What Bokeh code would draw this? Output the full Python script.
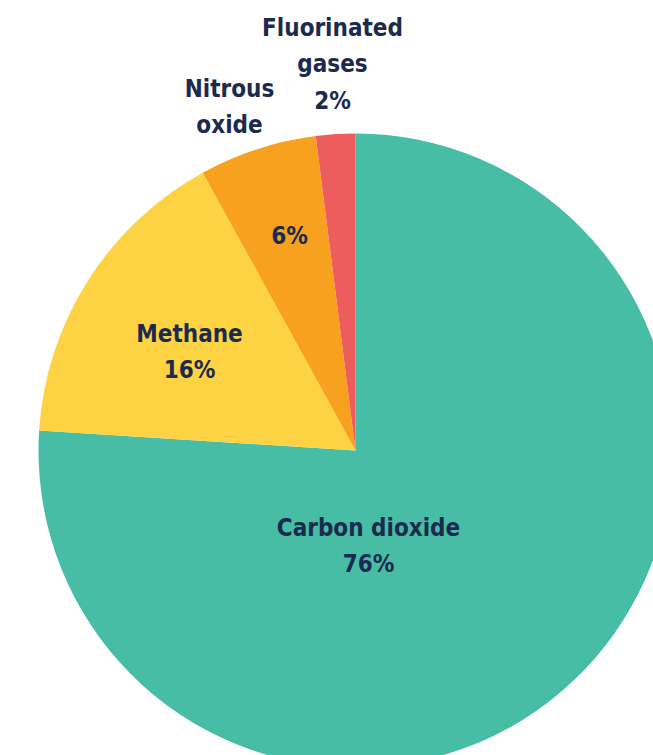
import math
from bokeh.plotting import figure
from bokeh.models import ColumnDataSource, Range1d
from bokeh.core.properties import value
from bokeh.embed import file_html
from bokeh.resources import INLINE

# ---- data ----
categories = ["Carbon dioxide", "Methane", "Nitrous oxide", "Fluorinated gases"]
shares = [76, 16, 6, 2]
colors = ["#47BDA5", "#FDD343", "#F7A11F", "#EE5D5E"]

label_lines = [
    ["Carbon dioxide", "76%"],
    ["Methane", "16%"],
    ["6%"],
    ["Fluorinated", "gases", "2%"],
]
extra_lines = [["Nitrous", "oxide"]]

# ---- layout (pixel-like coordinates, y up) ----
W, H = 653, 755
cx, cy, R = 355, H - 450, 317
label_anchor = [(368, H - 527), (189, H - 333), (289, H - 235), (332, H - 27)]
extra_anchor = [(229, H - 88)]
line_h = 36.5
font = "'DejaVu Sans Condensed', Roboto"
text_color = "#1B2A4F"
fs = "24px"

p = figure(width=W, height=H, output_backend="svg", toolbar_location=None,
           x_range=Range1d(0, W), y_range=Range1d(0, H), min_border=0)
p.axis.visible = False
p.grid.visible = False
p.outline_line_color = None
p.background_fill_color = "white"

total = sum(shares)
starts, ends = [], []
a = math.pi / 2
for s in shares:
    b = a - 2 * math.pi * s / total
    starts.append(a)
    ends.append(b)
    a = b

src = ColumnDataSource(dict(start=starts, end=ends, color=colors, name=categories))
p.wedge(x=cx, y=cy, radius=R, start_angle="start", end_angle="end",
        direction="clock", fill_color="color", line_color=None, source=src)

xs, ys, ts = [], [], []
for lines, (ax, ay) in list(zip(label_lines, label_anchor)) + list(zip(extra_lines, extra_anchor)):
    for i, t in enumerate(lines):
        xs.append(ax)
        ys.append(ay - i * line_h)
        ts.append(t)

p.text(x=xs, y=ys, text=ts, text_align="center", text_baseline="middle",
       text_font=value(font), text_font_style="bold", text_font_size=fs,
       text_color=text_color)

open("out.html", "w").write(file_html(p, INLINE))
